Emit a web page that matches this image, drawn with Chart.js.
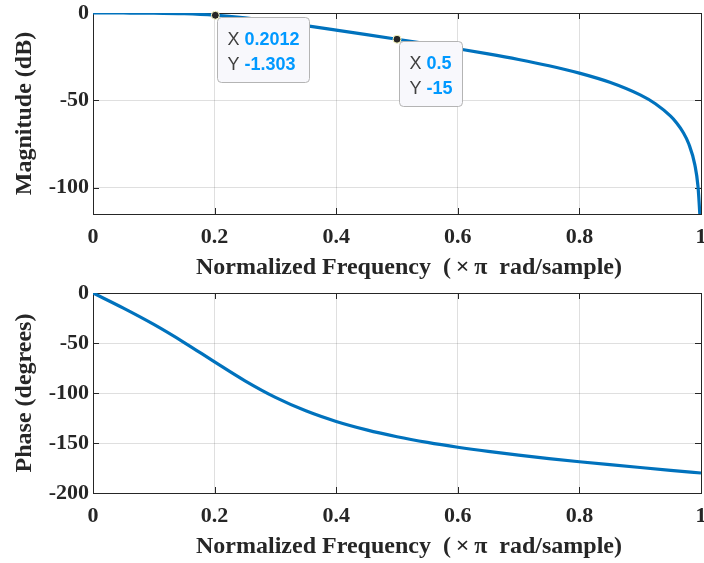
<!DOCTYPE html>
<html>
<head>
<meta charset="utf-8">
<script src="https://cdn.jsdelivr.net/npm/chart.js@4.4.0/dist/chart.umd.min.js"></script>
<style>
body { margin: 0; background: #fff; }
#wrap { position: relative; width: 704px; height: 563px; }
canvas { position: absolute; left: 0; }
#magChart { top: 0; }
#phaseChart { top: 281px; }
</style>
</head>
<body>
<div id="wrap">
  <canvas id="magChart" width="704" height="281"></canvas>
  <canvas id="phaseChart" width="704" height="282"></canvas>
</div>
<script>
// values
const magFreq = [0, 0.05, 0.1, 0.15, 0.2, 0.25, 0.3, 0.35, 0.4, 0.45, 0.5, 0.55, 0.6, 0.65, 0.7, 0.75, 0.8, 0.85, 0.9, 0.925, 0.95, 0.96, 0.97, 0.98, 0.99, 0.995, 0.998, 1];
const magDb = [0, -0.01, -0.08, -0.42, -1.27, -2.79, -4.86, -7.26, -9.79, -12.38, -15.0, -17.67, -20.45, -23.38, -26.58, -30.17, -34.39, -39.64, -46.87, -51.93, -59.02, -62.91, -67.92, -74.97, -87.01, -99.05, -114.97, -130];

const phaseFreq = [0, 0.05, 0.1, 0.15, 0.2, 0.25, 0.3, 0.35, 0.4, 0.45, 0.5, 0.55, 0.6, 0.65, 0.7, 0.75, 0.8, 0.85, 0.9, 0.95, 1];
const phaseDeg = [0, -15.17, -31.46, -49.53, -68.95, -87.88, -104.43, -117.86, -128.47, -136.89, -143.72, -149.39, -154.22, -158.43, -162.18, -165.59, -168.74, -171.70, -174.53, -177.29, -180];

const freqTicks = [0, 0.2, 0.4, 0.6, 0.8, 1];
const magTicks = [-100, -50, 0];
const phaseTicks = [-200, -150, -100, -50, 0];

// data tips
const tipFreq = [0.2012, 0.5];
const tipDb = [-1.303, -15];

const axisColor = '#262626';
const gridColor = 'rgba(38,38,38,0.15)';
const lineColor = '#0072BD';
const serif = "'Liberation Serif', 'Times New Roman', serif";
const tickFont = { family: serif, size: 22, weight: 'bold' };
const titleFont = { family: serif, size: 24, weight: 'bold', lineHeight: 1 };
const xTitle = '\u2003Normalized Frequency  (\u2009\u00d7\u2009\u03c0\u2002rad/sample)';

function toPoints(xs, ys) {
    return xs.map(function (x, i) { return { x: x, y: ys[i] }; });
}

// matlab style box with the little ticks inside
const boxPlugin = {
    id: 'box',
    beforeDatasetsDraw(chart) {
        const ctx = chart.ctx;
        const a = chart.chartArea;
        const sx = chart.scales.x, sy = chart.scales.y;
        ctx.save();
        ctx.strokeStyle = axisColor;
        ctx.lineWidth = 1;
        ctx.beginPath();
        sx.ticks.forEach(function (t) {
            const px = Math.round(sx.getPixelForValue(t.value)) + 0.5;
            ctx.moveTo(px, a.bottom); ctx.lineTo(px, a.bottom - 6);
            ctx.moveTo(px, a.top); ctx.lineTo(px, a.top + 6);
        });
        sy.ticks.forEach(function (t) {
            const py = Math.round(sy.getPixelForValue(t.value)) + 0.5;
            ctx.moveTo(a.left, py); ctx.lineTo(a.left + 6, py);
            ctx.moveTo(a.right, py); ctx.lineTo(a.right - 6, py);
        });
        ctx.stroke();
        ctx.strokeRect(Math.round(a.left) + 0.5, Math.round(a.top) + 0.5, Math.round(a.right - a.left), Math.round(a.bottom - a.top));
        ctx.restore();
    }
};

const tipPlugin = {
    id: 'tips',
    afterDatasetsDraw(chart) {
        const ctx = chart.ctx;
        const sx = chart.scales.x, sy = chart.scales.y;
        const normal = "18px 'Liberation Sans', Arial, sans-serif";
        const bold = "bold 18px 'Liberation Sans', Arial, sans-serif";
        tipFreq.forEach(function (f, i) {
            const px = sx.getPixelForValue(f);
            const py = sy.getPixelForValue(tipDb[i]);
            const rows = [['X ', String(f)], ['Y ', String(tipDb[i])]];
            let w = 0;
            rows.forEach(function (r) {
                ctx.font = normal;
                let rw = ctx.measureText(r[0]).width;
                ctx.font = bold;
                rw += ctx.measureText(r[1]).width;
                w = Math.max(w, rw);
            });
            const bx = Math.round(px) + 2.5, by = Math.round(py) + 2.5;
            const bw = Math.round(w + 20), bh = 65;
            ctx.save();
            ctx.beginPath();
            ctx.roundRect(bx, by, bw, bh, 4);
            ctx.fillStyle = '#f8f8fc';
            ctx.fill();
            ctx.strokeStyle = '#b4b4b4';
            ctx.lineWidth = 1;
            ctx.stroke();
            ctx.textBaseline = 'alphabetic';
            rows.forEach(function (r, k) {
                const ty = by + 27 + k * 25;
                ctx.font = normal;
                ctx.fillStyle = '#404040';
                ctx.fillText(r[0], bx + 10, ty);
                const lw = ctx.measureText(r[0]).width;
                ctx.font = bold;
                ctx.fillStyle = '#0099ff';
                ctx.fillText(r[1], bx + 10 + lw, ty);
            });
            ctx.beginPath();
            ctx.arc(px, py, 4, 0, Math.PI * 2);
            ctx.fillStyle = '#262626';
            ctx.fill();
            ctx.strokeStyle = '#ffffc8';
            ctx.stroke();
            ctx.restore();
        });
    }
};

function makeChart(id, points, yMin, yMax, yTicks, yTitle, pad, xHeight, xTitlePad, extraPlugins) {
    return new Chart(document.getElementById(id), {
        type: 'line',
        data: {
            datasets: [{
                data: points,
                borderColor: lineColor,
                borderWidth: 3.2,
                pointRadius: 0,
                cubicInterpolationMode: 'monotone',
                fill: false
            }]
        },
        options: {
            responsive: false,
            animation: false,
            layout: { padding: pad },
            plugins: { legend: { display: false }, tooltip: { enabled: false } },
            scales: {
                x: {
                    type: 'linear',
                    min: 0,
                    max: 1,
                    afterBuildTicks: function (s) { s.ticks = freqTicks.map(function (v) { return { value: v }; }); },
                    afterFit: function (s) { s.height = xHeight; s.paddingLeft = 0; s.paddingRight = 0; },
                    grid: { color: gridColor, drawTicks: false },
                    border: { display: false },
                    ticks: { color: axisColor, font: tickFont, padding: 10, maxRotation: 0, autoSkip: false,
                        callback: function (v) { return String(v); } },
                    title: { display: true, text: xTitle, color: axisColor, font: titleFont, padding: { top: 0, bottom: xTitlePad } }
                },
                y: {
                    type: 'linear',
                    min: yMin,
                    max: yMax,
                    afterBuildTicks: function (s) { s.ticks = yTicks.map(function (v) { return { value: v }; }); },
                    afterFit: function (s) { s.width = 93; s.paddingTop = 0; s.paddingBottom = 0; },
                    grid: { color: gridColor, drawTicks: false },
                    border: { display: false },
                    ticks: { color: axisColor, font: tickFont, padding: 4, autoSkip: false,
                        callback: function (v) { return String(v); } },
                    title: { display: true, text: yTitle, color: axisColor, font: titleFont, padding: { top: 13, bottom: 0 } }
                }
            }
        },
        plugins: [boxPlugin].concat(extraPlugins)
    });
}

makeChart('magChart', toPoints(magFreq, magDb), -115, 0, magTicks, 'Magnitude (dB)',
    { top: 13, right: 3, left: 0, bottom: 0 }, 67, 1, [tipPlugin]);

makeChart('phaseChart', toPoints(phaseFreq, phaseDeg), -200, 0, phaseTicks, 'Phase (degrees)',
    { top: 12, right: 3, left: 0, bottom: 0 }, 70, 4, []);
</script>
</body>
</html>
